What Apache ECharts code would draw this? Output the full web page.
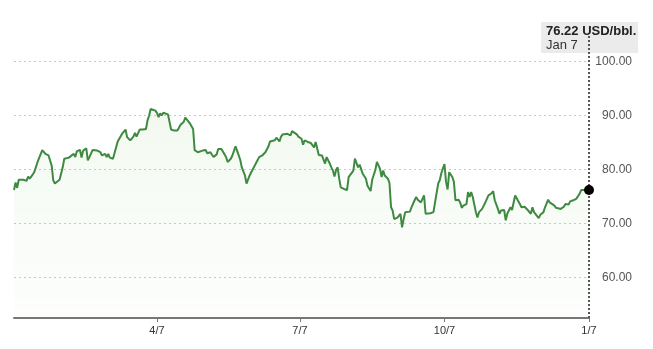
<!DOCTYPE html>
<html>
<head>
<meta charset="utf-8">
<title>Oil price</title>
<script src="https://cdn.jsdelivr.net/npm/echarts@6/dist/echarts.min.js"></script>
<style>
  html, body { margin: 0; padding: 0; background: #fff; }
  #chart { width: 653px; height: 349px; }
</style>
</head>
<body>
<div id="chart"></div>
<script>
// days counted from 2024-01-07
const startLabel = 'Jan 7'
const days = [
  0, 1, 2, 3, 6, 8, 9, 10, 12, 13,
  14, 15, 18, 20, 22, 24, 25, 26, 27, 29,
  31, 32, 35, 36, 38, 39, 40, 42, 43, 44,
  46, 47, 48, 50, 53, 55, 56, 58, 59, 60,
  61, 63, 64, 66, 67, 69, 71, 72, 74, 76,
  77, 78, 80, 82, 84, 85, 86, 87, 90, 91,
  92, 93, 94, 95, 98, 99, 100, 102, 104, 105,
  106, 108, 109, 111, 112, 114, 115, 117, 118, 120,
  122, 123, 125, 126, 127, 129, 130, 132, 133, 135,
  136, 138, 139, 141, 142, 144, 145, 147, 148, 150,
  151, 153, 155, 156, 158, 160, 162, 163, 164, 166,
  167, 169, 170, 171, 174, 175, 176, 177, 178, 180,
  181, 183, 184, 185, 187, 189, 190, 191, 192, 193,
  194, 196, 197, 198, 199, 201, 202, 203, 204, 205,
  206, 207, 208, 210, 212, 213, 216, 217, 219, 220,
  222, 224, 225, 227, 228, 230, 231, 233, 234, 235,
  236, 238, 239, 240, 241, 242, 244, 245, 246, 247,
  248, 249, 250, 252, 253, 255, 256, 257, 259, 261,
  262, 263, 265, 267, 268, 270, 271, 272, 273, 274,
  275, 276, 277, 279, 280, 281, 283, 284, 285, 286,
  288, 289, 290, 291, 292, 294, 295, 296, 298, 299,
  300, 302, 303, 304, 305, 306, 308, 309, 310, 312,
  313, 314, 316, 317, 319, 322, 323, 325, 327, 329,
  330, 331, 332, 334, 335, 337, 338, 340, 341, 344,
  345, 348, 350, 351, 353, 354, 356, 358, 360, 361,
  362, 364, 366
]
const prices = [
  76.2, 77.6, 76.6, 78.1, 78.1, 77.9, 78.7, 78.3, 79.1, 79.6,
  79.8, 81.4, 83.6, 82.9, 82.6, 80.7, 78.0, 77.4, 77.6, 78.1,
  80.4, 82.0, 82.2, 82.0, 82.9, 82.3, 83.4, 83.6, 82.2, 83.5,
  83.9, 81.7, 82.3, 83.6, 83.5, 83.2, 82.6, 82.9, 82.3, 82.9,
  82.2, 82.0, 81.9, 85.2, 85.5, 86.7, 87.4, 86.0, 85.4, 86.1,
  86.8, 86.1, 87.4, 87.4, 87.5, 89.1, 90.0, 91.2, 90.9, 90.5,
  89.7, 90.4, 90.0, 90.5, 90.2, 90.0, 87.4, 87.2, 87.2, 87.1,
  88.3, 88.8, 89.6, 88.9, 88.5, 87.5, 83.6, 83.2, 83.2, 83.5,
  83.6, 83.0, 83.2, 83.4, 82.3, 82.8, 83.8, 83.8, 83.6, 82.3,
  81.4, 82.0, 82.6, 84.3, 83.5, 81.8, 80.4, 78.9, 77.4, 78.9,
  79.5, 80.6, 81.7, 82.3, 82.6, 83.2, 84.3, 85.2, 85.5, 85.4,
  85.9, 85.2, 86.1, 86.5, 86.6, 86.7, 86.3, 87.1, 87.4, 86.5,
  86.1, 85.7, 84.6, 85.4, 85.1, 84.9, 84.6, 84.1, 85.1, 85.1,
  82.7, 82.6, 82.3, 81.1, 82.3, 81.1, 80.4, 79.8, 78.7, 79.9,
  80.4, 78.3, 76.7, 76.4, 76.2, 78.6, 79.8, 82.0, 80.4, 80.9,
  79.2, 78.3, 77.0, 76.0, 78.1, 79.9, 81.4, 80.1, 78.6, 79.8,
  78.9, 78.3, 77.5, 73.0, 72.4, 70.8, 71.1, 71.4, 71.8, 69.3,
  70.8, 72.1, 71.8, 72.2, 73.0, 74.3, 74.9, 74.4, 73.9, 75.2,
  71.8, 72.1, 71.9, 72.1, 73.9, 77.4, 78.0, 79.3, 80.2, 81.0,
  77.7, 76.3, 79.5, 78.6, 77.7, 74.3, 74.4, 73.9, 72.9, 73.3,
  73.6, 75.8, 74.9, 75.8, 74.9, 72.1, 71.1, 72.1, 72.7, 73.3,
  73.9, 75.2, 75.5, 75.6, 76.0, 74.3, 72.7, 71.8, 72.4, 72.5,
  70.6, 71.8, 73.0, 72.5, 75.2, 73.6, 73.0, 73.1, 72.5, 71.8,
  73.0, 72.1, 72.1, 71.0, 71.6, 72.1, 73.0, 74.4, 73.9, 73.3,
  72.9, 72.7, 73.1, 73.6, 73.5, 74.1, 74.3, 74.6, 75.5, 76.2,
  76.4, 76.2, 76.22
]
const xTickDays = [91, 182, 274, 366]
const xTickLabels = ['4/7', '7/7', '10/7', '1/7']
const yTicks = [60, 70, 80, 90, 100]

const seriesData = days.map((d, i) => [d, prices[i]])
const lastPoint = seriesData[seriesData.length - 1]

const myChart = echarts.init(document.getElementById('chart'))
const option = {
  animation: false,
  grid: { left: 14, right: 64, top: 34.5, bottom: 31 },
  xAxis: {
    type: 'value',
    min: 0,
    max: 366,
    axisLine: { show: true, lineStyle: { color: '#777', width: 2 } },
    axisTick: { show: true, customValues: xTickDays, length: 4, lineStyle: { color: '#777' } },
    axisLabel: {
      customValues: xTickDays,
      margin: 7,
      color: '#333',
      fontSize: 11,
      fontFamily: 'Liberation Sans, Arial, sans-serif',
      formatter: v => xTickLabels[xTickDays.indexOf(v)] || ''
    },
    splitLine: { show: false }
  },
  yAxis: {
    type: 'value',
    position: 'right',
    min: 52.5,
    max: 105,
    axisLine: { show: false },
    axisTick: { show: false, customValues: yTicks },
    axisLabel: {
      customValues: yTicks,
      align: 'right',
      margin: 43,
      color: '#555',
      fontSize: 12,
      fontFamily: 'Liberation Sans, Arial, sans-serif',
      formatter: v => v.toFixed(2)
    },
    splitLine: { show: true, lineStyle: { color: '#c8c8c8', type: [2, 3], width: 1 } }
  },
  series: [{
    type: 'line',
    data: seriesData,
    showSymbol: false,
    lineStyle: { color: '#3e8a41', width: 2 },
    itemStyle: { color: '#3e8a41' },
    areaStyle: {
      color: new echarts.graphic.LinearGradient(0, 0, 0, 1, [
        { offset: 0, color: 'rgba(130, 195, 110, 0.14)' },
        { offset: 1, color: 'rgba(130, 195, 110, 0.02)' }
      ])
    },
    markLine: {
      silent: true,
      symbol: 'none',
      label: { show: false },
      lineStyle: { color: '#555', type: [2, 2], width: 2 },
      data: [{ xAxis: lastPoint[0] }]
    },
    markPoint: {
      silent: true,
      symbol: 'circle',
      symbolSize: 10,
      itemStyle: { color: '#000' },
      label: { show: false },
      data: [{ coord: lastPoint }]
    }
  }],
  graphic: [{
    type: 'group',
    left: 541,
    top: 22,
    children: [
      { type: 'rect', shape: { x: 0, y: 0, width: 97, height: 31 }, style: { fill: '#ebebeb' } },
      {
        type: 'text', x: 5, y: 3,
        style: { text: lastPoint[1].toFixed(2) + ' USD/bbl.', fill: '#222', font: '600 13px Liberation Sans, Arial, sans-serif' }
      },
      {
        type: 'text', x: 5, y: 17,
        style: { text: startLabel, fill: '#333', font: '13px Liberation Sans, Arial, sans-serif' }
      }
    ]
  }]
}
myChart.setOption(option, true)
window.addEventListener('resize', () => {
  myChart.resize()
})
</script>
</body>
</html>
